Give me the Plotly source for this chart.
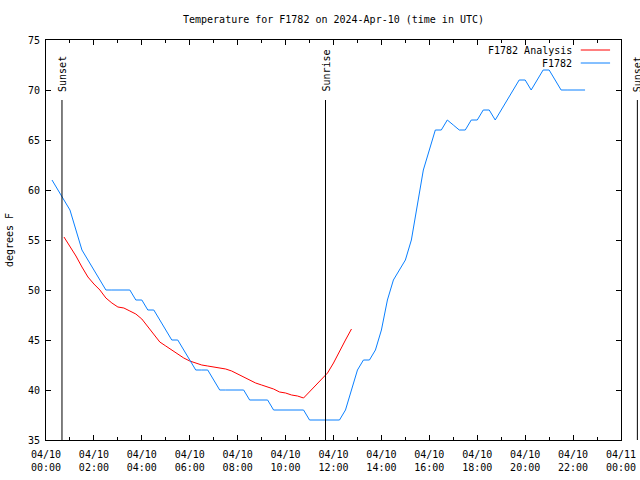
import pandas as pd
import plotly.graph_objects as go

# ---------------- data ----------------
title_text = "Temperature for F1782 on 2024-Apr-10 (time in UTC)"
day = "2024-04-10"

obs_name = "F1782"
obs_times = ["00:15", "00:30", "00:45", "01:00", "01:15", "01:30", "01:45", "02:00",
             "02:15", "02:30", "02:45", "03:00", "03:15", "03:30", "03:45", "04:00",
             "04:15", "04:30", "04:45", "05:00", "05:15", "05:30", "05:45", "06:00",
             "06:15", "06:30", "06:45", "07:00", "07:15", "07:30", "07:45", "08:00",
             "08:15", "08:30", "08:45", "09:00", "09:15", "09:30", "09:45", "10:00",
             "10:15", "10:30", "10:45", "11:00", "11:15", "11:30", "11:45", "12:00",
             "12:15", "12:30", "12:45", "13:00", "13:15", "13:30", "13:45", "14:00",
             "14:15", "14:30", "14:45", "15:00", "15:15", "15:30", "15:45", "16:00",
             "16:15", "16:30", "16:45", "17:00", "17:15", "17:30", "17:45", "18:00",
             "18:15", "18:30", "18:45", "19:00", "19:15", "19:30", "19:45", "20:00",
             "20:15", "20:30", "20:45", "21:00", "21:15", "21:30", "21:45", "22:00",
             "22:15", "22:30"]
obs_temps = [61, 60, 59, 58, 56, 54, 53, 52,
             51, 50, 50, 50, 50, 50, 49, 49,
             48, 48, 47, 46, 45, 45, 44, 43,
             42, 42, 42, 41, 40, 40, 40, 40,
             40, 39, 39, 39, 39, 38, 38, 38,
             38, 38, 38, 37, 37, 37, 37, 37,
             37, 38, 40, 42, 43, 43, 44, 46,
             49, 51, 52, 53, 55, 58.5, 62, 64,
             66, 66, 67, 66.5, 66, 66, 67, 67,
             68, 68, 67, 68, 69, 70, 71, 71,
             70, 71, 72, 72, 71, 70, 70, 70,
             70, 70]

ana_name = "F1782 Analysis"
ana_times = ["00:45", "01:00", "01:15", "01:30", "01:45", "02:00", "02:15", "02:30",
             "02:45", "03:00", "03:15", "03:30", "03:45", "04:00", "04:15", "04:30",
             "04:45", "05:00", "05:15", "05:30", "05:45", "06:00", "06:15", "06:30",
             "06:45", "07:00", "07:15", "07:30", "07:45", "08:00", "08:15", "08:30",
             "08:45", "09:00", "09:15", "09:30", "09:45", "10:00", "10:15", "10:30",
             "10:45", "11:00", "11:15", "11:30", "11:45", "12:00", "12:15", "12:30",
             "12:45"]
ana_temps = [55.3, 54.4, 53.4, 52.3, 51.3, 50.6, 50.0, 49.2,
             48.7, 48.3, 48.2, 47.9, 47.6, 47.1, 46.3, 45.5,
             44.8, 44.4, 44.0, 43.6, 43.2, 42.9, 42.7, 42.5,
             42.4, 42.3, 42.2, 42.1, 41.9, 41.6, 41.3, 41.0,
             40.7, 40.5, 40.3, 40.1, 39.8, 39.7, 39.5, 39.4,
             39.2, 39.8, 40.4, 41.0, 41.7, 42.7, 43.9, 45.0,
             46.1]

event_names = ["Sunset", "Sunrise", "Sunset"]
event_times = ["2024-04-10 00:40", "2024-04-10 11:40", "2024-04-11 00:41"]
event_line_top = 69

x_start = "2024-04-10 00:00"
x_end = "2024-04-11 00:00"
y_min, y_max = 35, 75
y_ticks = [35, 40, 45, 50, 55, 60, 65, 70, 75]
y_title = "degrees F"

# ---------------- styles ----------------
FONT = "DejaVu Sans Mono"
RED = "#ff0000"
BLUE = "#0a80ff"

obs_x = pd.to_datetime([f"{day} {t}" for t in obs_times])
ana_x = pd.to_datetime([f"{day} {t}" for t in ana_times])

fig = go.Figure()
fig.add_trace(go.Scatter(x=ana_x, y=ana_temps, mode="lines", name=ana_name,
                         line=dict(color=RED, width=1), showlegend=False))
fig.add_trace(go.Scatter(x=obs_x, y=obs_temps, mode="lines", name=obs_name,
                         line=dict(color=BLUE, width=1), showlegend=False))

t0 = pd.Timestamp(x_start)
t1 = pd.Timestamp(x_end)
span = (t1 - t0).total_seconds()
y_span = y_max - y_min

shapes = []
annotations = []
for name, t in zip(event_names, event_times):
    fx = (pd.Timestamp(t) - t0).total_seconds() / span
    fy_top = (event_line_top - y_min) / y_span
    shapes.append(dict(type="line", xref="paper", yref="paper", x0=fx, x1=fx,
                       y0=0, y1=fy_top, line=dict(color="black", width=1)))
    annotations.append(dict(text=name, xref="paper", yref="paper", x=fx, y=fy_top,
                            xanchor="center", yanchor="bottom", yshift=6,
                            textangle=-90, showarrow=False,
                            font=dict(family=FONT, size=10, color="black")))

# gnuplot-style key: text right-aligned, sample line to the right
key_items = [(ana_name, RED), (obs_name, BLUE)]
key_text_x = 0.919
key_line = (0.930, 0.981)
key_y0 = 0.975
key_dy = 0.0325
for i, (name, col) in enumerate(key_items):
    ky = key_y0 - i * key_dy
    annotations.append(dict(text=name, xref="paper", yref="paper", x=key_text_x, y=ky,
                            xanchor="right", yanchor="middle", showarrow=False,
                            font=dict(family=FONT, size=10, color="black")))
    shapes.append(dict(type="line", xref="paper", yref="paper", x0=key_line[0],
                       x1=key_line[1], y0=ky, y1=ky, line=dict(color=col, width=1)))

fig.update_layout(
    width=640, height=480,
    margin=dict(l=46, r=19, t=40, b=40, autoexpand=False),
    paper_bgcolor="white", plot_bgcolor="white",
    font=dict(family=FONT, size=10, color="black"),
    title=dict(text=title_text, x=0.5, xref="paper", y=1 - 19 / 480, yref="container",
               xanchor="center", yanchor="middle",
               font=dict(family=FONT, size=10, color="black")),
    shapes=shapes, annotations=annotations,
    showlegend=False,
)
fig.update_xaxes(
    type="date", range=[x_start, x_end], automargin=False,
    tick0=x_start, dtick=2 * 3600 * 1000,
    tickformat="%m/%d<br>%H:%M", ticklabelstandoff=5,
    ticks="inside", ticklen=5, tickcolor="black", tickwidth=1,
    minor=dict(ticks="inside", ticklen=3, dtick=3600 * 1000, tickcolor="black"),
    showline=True, linecolor="black", linewidth=1, mirror="allticks",
    showgrid=False, zeroline=False,
    tickfont=dict(family=FONT, size=10, color="black"),
)
fig.update_yaxes(
    range=[y_min, y_max], tickvals=y_ticks, automargin=False,
    ticklabelstandoff=3,
    ticks="inside", ticklen=5, tickcolor="black", tickwidth=1,
    showline=True, linecolor="black", linewidth=1, mirror="allticks",
    showgrid=False, zeroline=False,
    tickfont=dict(family=FONT, size=10, color="black"),
    title=dict(text=y_title, standoff=12, font=dict(family=FONT, size=10, color="black")),
)

fig.write_html("out.html",
               config={"displayModeBar": False},
               post_script="document.body.style.margin='0';document.body.style.overflow='hidden';")
